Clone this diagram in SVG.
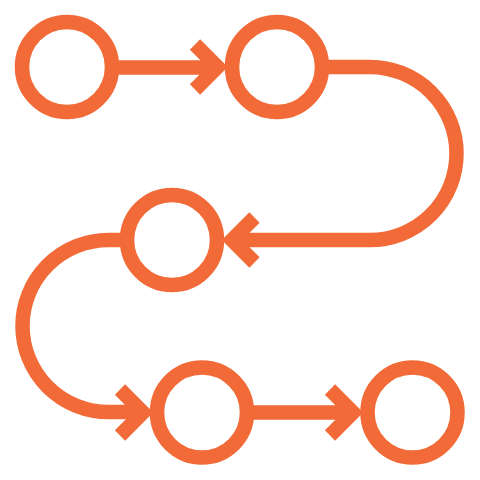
<svg xmlns="http://www.w3.org/2000/svg" width="480" height="480" viewBox="0 0 480 480">
<style>
.s{fill:none;stroke:#F26A37;stroke-width:14.5;stroke-linecap:butt;stroke-linejoin:miter;stroke-miterlimit:10}
</style>
<rect width="480" height="480" fill="#fff"/>
<g id="connectors" class="s">
<path d="M112,67.5 H216"/>
<polyline points="195,44.5 217.5,67 195,89.5"/>
<path d="M322,67 H370 A86.5,86.5 0 0 1 370,240 H233"/>
<polyline points="254.5,217.5 232,240 254.5,262.5"/>
<path d="M127,240 H108.5 A86,86 0 0 0 108.5,412 H142"/>
<polyline points="120,389.5 143,412.5 120,435.5"/>
<path d="M247,412.5 H352"/>
<polyline points="330,389.5 353,412.5 330,435.5"/>
</g>
<g id="n1" class="s"><circle cx="67" cy="67" r="45"/></g>
<g id="n2" class="s"><circle cx="277" cy="67" r="45"/></g>
<g id="n3" class="s"><circle cx="172" cy="240" r="45"/></g>
<g id="n4" class="s"><circle cx="202" cy="412.5" r="45"/></g>
<g id="n5" class="s"><circle cx="412.5" cy="412.5" r="45"/></g>
</svg>
